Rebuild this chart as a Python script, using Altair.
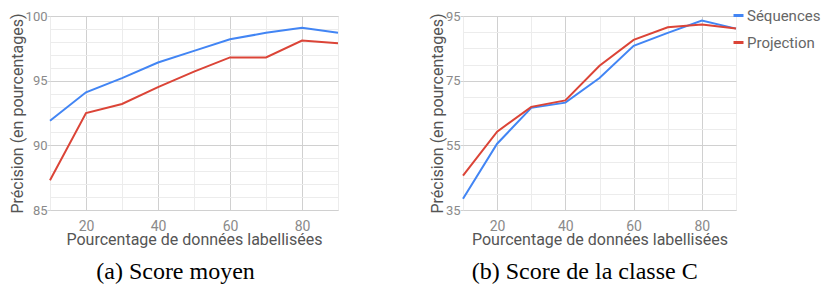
import altair as alt
import pandas as pd

pct = [10, 20, 30, 40, 50, 60, 70, 80, 90]
series = ["Séquences", "Projection"]
colors = ["#4285F4", "#DB4437"]

# (a) Score moyen
a_seq = [91.9, 94.1, 95.2, 96.4, 97.3, 98.2, 98.7, 99.1, 98.7]
a_proj = [87.3, 92.5, 93.2, 94.5, 95.7, 96.8, 96.8, 98.1, 97.9]
# (b) Score de la classe C
b_seq = [38.5, 55.5, 66.6, 68.2, 75.8, 85.8, 89.8, 93.6, 91.1]
b_proj = [45.6, 59.2, 66.9, 68.9, 79.6, 87.6, 91.5, 92.4, 91.1]

x_ticks = [10, 20, 30, 40, 50, 60, 70, 80, 90]
a_y_ticks = list(range(85, 101))
b_y_ticks = list(range(35, 96, 5))

x_title = "Pourcentage de données labellisées"
y_title = "Précision (en pourcentages)"
cap_a = "(a) Score moyen"
cap_b = "(b) Score de la classe C"


def frame(seq, proj):
    rows = []
    for i, p in enumerate(pct):
        rows.append({"pct": p, "val": seq[i], "serie": series[0]})
        rows.append({"pct": p, "val": proj[i], "serie": series[1]})
    return pd.DataFrame(rows)


legend = alt.Legend(
    title=None, orient="none", legendX=681, legendY=-8, padding=0, symbolType="stroke",
    symbolSize=100, symbolStrokeWidth=3, labelFont="Roboto", labelFontSize=15,
    labelColor="#666666", labelOffset=1, rowPadding=11,
)


def panel(df, ydom, yticks, ybase, ymajor, w, h, caption):
    ycond = f"(datum.value - {ybase}) % {ymajor} === 0"
    xcond = "datum.value % 20 === 0"
    x_axis = alt.Axis(
        values=x_ticks,
        labelExpr=f"{xcond} ? datum.label : ''",
        gridColor=alt.condition(xcond, alt.value("#d0d0d0"), alt.value("#ececec")),
        ticks=False, domain=False, labelPadding=9, titlePadding=-2,
        labelFont="Roboto", labelFontSize=14, labelColor="#8a8a8a",
        titleFont="Roboto", titleFontSize=16, titleFontWeight="normal", titleColor="#555555",
    )
    y_axis = alt.Axis(
        values=yticks,
        labelExpr=f"{ycond} ? datum.label : ''",
        gridColor=alt.condition(ycond, alt.value("#d0d0d0"), alt.value("#ececec")),
        tickColor=alt.condition(ycond, alt.value("#d0d0d0"), alt.value("transparent")),
        tickSize=3, domain=False, labelPadding=0, titlePadding=0,
        labelFont="Roboto", labelFontSize=13, labelColor="#8a8a8a",
        titleFont="Roboto", titleFontSize=16, titleFontWeight="normal", titleColor="#555555",
    )
    return alt.Chart(df).mark_line(strokeWidth=2).encode(
        x=alt.X("pct:Q", title=x_title, scale=alt.Scale(domain=[10, 90], nice=False), axis=x_axis),
        y=alt.Y("val:Q", title=y_title, scale=alt.Scale(domain=ydom, nice=False, zero=False), axis=y_axis),
        color=alt.Color("serie:N", legend=legend, scale=alt.Scale(domain=series, range=colors), sort=series),
    ).properties(
        width=w, height=h,
        title=alt.TitleParams(caption, orient="bottom", anchor="middle", frame="bounds",
                              font="Liberation Serif", fontSize=24, fontWeight="normal",
                              color="#000000", offset=13),
    )


left = panel(frame(a_seq, a_proj), [85, 100], a_y_ticks, 85, 5, 288, 194, cap_a)
right = panel(frame(b_seq, b_proj), [35, 95], b_y_ticks, 35, 20, 273, 194, cap_b)

chart = alt.hconcat(left, right, spacing=85).properties(
    padding={"left": 0, "top": 0, "right": 0, "bottom": 0}
).configure_view(stroke=None).configure(background="white")

chart.save("out.html", embed_options={"renderer": "svg", "actions": False})
